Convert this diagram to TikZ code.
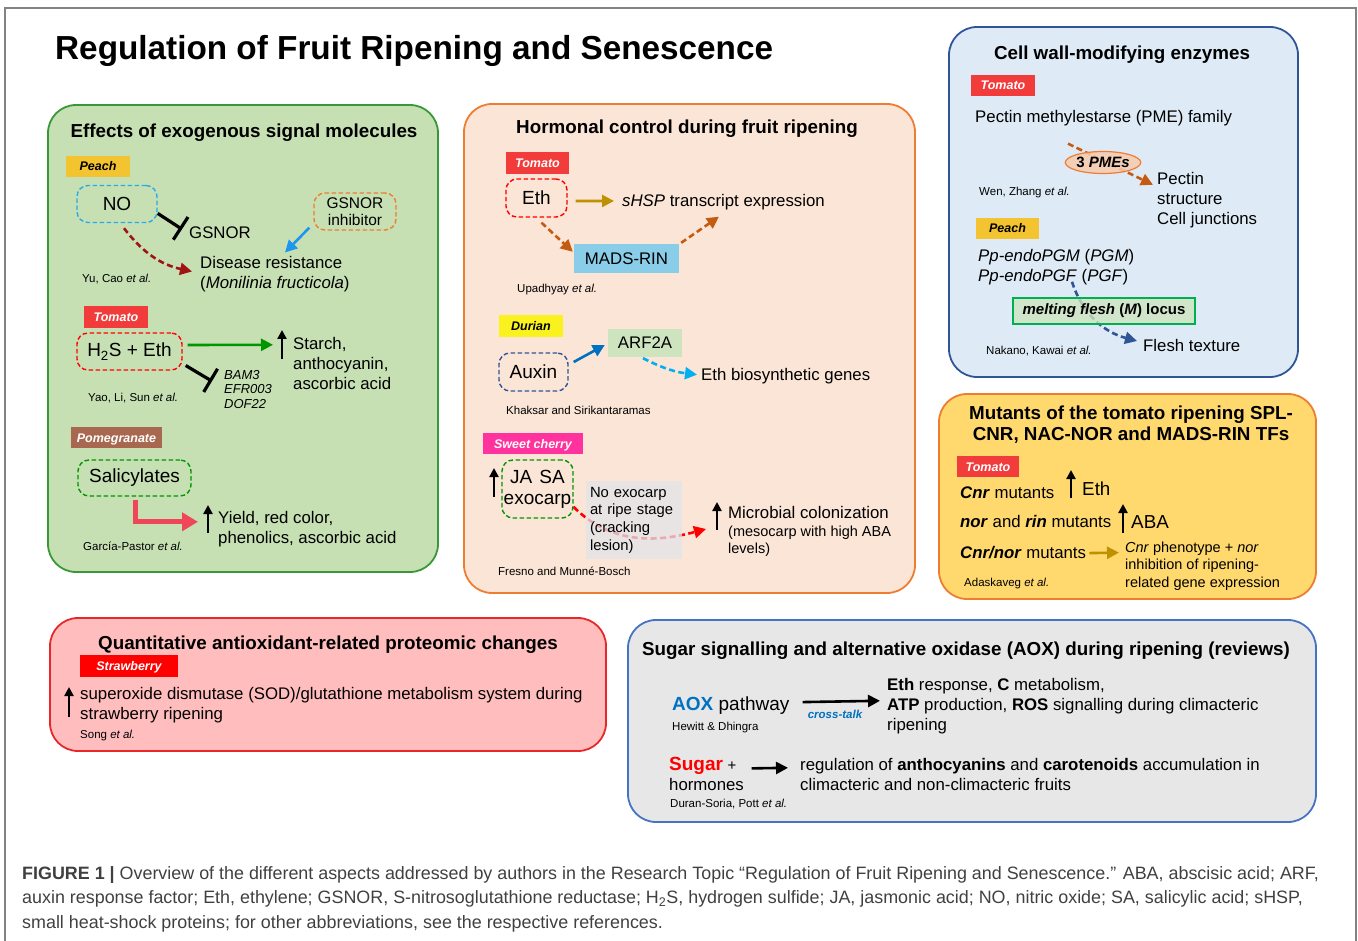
\documentclass[tikz,border=0pt]{standalone}
\usepackage{fontspec}
\setmainfont{Liberation Sans}
\usetikzlibrary{calc}
\usetikzlibrary{positioning}
\usetikzlibrary{arrows.meta}
\usetikzlibrary{shapes.geometric}

\definecolor{framegray}{RGB}{130,130,130}
\definecolor{grnfill}{RGB}{198,224,180}
\definecolor{grnline}{RGB}{56,152,56}
\definecolor{orgfill}{RGB}{251,229,214}
\definecolor{orgline}{RGB}{237,125,49}
\definecolor{bluefill}{RGB}{222,235,247}
\definecolor{blueline}{RGB}{47,85,151}
\definecolor{yelfill}{RGB}{255,217,110}
\definecolor{pinkfill}{RGB}{255,189,189}
\definecolor{pinkline}{RGB}{232,40,40}
\definecolor{grayfill}{RGB}{231,231,231}
\definecolor{grayline}{RGB}{68,114,196}
\definecolor{tagpeach}{RGB}{243,196,48}
\definecolor{tagtomato}{RGB}{242,60,60}
\definecolor{tagpom}{RGB}{168,104,80}
\definecolor{tagdurian}{RGB}{250,242,30}
\definecolor{tagcherry}{RGB}{255,50,158}
\definecolor{tagstraw}{RGB}{255,0,0}
\definecolor{noblue}{RGB}{40,170,230}
\definecolor{dkred}{RGB}{160,20,20}
\definecolor{skyarr}{RGB}{30,150,240}
\definecolor{grnarr}{RGB}{0,150,0}
\definecolor{goldarr}{RGB}{191,144,0}
\definecolor{brnarr}{RGB}{197,90,17}
\definecolor{auxblue}{RGB}{0,112,192}
\definecolor{ltblue}{RGB}{0,176,240}
\definecolor{pinkarr}{RGB}{240,70,90}
\definecolor{madsblue}{RGB}{137,205,233}
\definecolor{arfgreen}{RGB}{205,228,190}
\definecolor{lesiongray}{RGB}{228,228,234}
\definecolor{pmefill}{RGB}{248,203,173}
\definecolor{mgreen}{RGB}{0,176,80}
\definecolor{capgray}{RGB}{64,64,64}

\newcommand{\fsz}[2]{\fontsize{#1pt}{#2pt}\selectfont}

\tikzset{
  panel/.style={rounded corners=28pt, line width=1.8pt},
  head/.style={inner sep=0pt, font=\fsz{18.8}{21}\bfseries, align=center},
  txt/.style={inner sep=0pt, font=\fsz{16.8}{20}, align=left},
  cite/.style={inner sep=0pt, font=\fsz{11.5}{13}},
  tag/.style={inner sep=0pt, minimum height=21.5pt, text height=9pt, text depth=0pt,
    font=\fsz{12.5}{14}\bfseries\itshape, text=white},
  sig/.style={draw, dash pattern=on 4.5pt off 2.5pt, rounded corners=11pt, line width=1.4pt,
    inner sep=0pt, font=\fsz{19}{21}, align=center},
  arr/.style={-{Triangle[length=12pt,width=12pt]}, line width=2.6pt},
  darr/.style={arr, dash pattern=on 6pt off 3.5pt},
  uparr/.style={-{Triangle[length=9pt,width=9pt]}, line width=2.4pt},
  inh/.style={-{Bar[width=27pt]}, line width=3.2pt},
  pinkarrow/.style={-{Triangle[length=16pt,width=18pt]}, line width=5pt, pinkarr},
}

\begin{document}
\begin{tikzpicture}[x=1pt,y=-1pt]
\useasboundingbox (0,0) rectangle (1358,941);

% frame and title
\draw[framegray, line width=1.2pt] (5,941) -- (5,8) -- (1356,8) -- (1356,941);
\node[anchor=base west, inner sep=0pt, font=\fsz{33.3}{38}\bfseries] (title) at (55,60)
  {Regulation of Fruit Ripening and Senescence};

% panels
\draw[panel, draw=grnline, fill=grnfill] (48,105) rectangle (438,572);
\draw[panel, draw=orgline, fill=orgfill] (464,104) rectangle (915,593);
\draw[panel, draw=blueline, fill=bluefill] (949,27) rectangle (1298,377);
\draw[panel, draw=orgline, fill=yelfill] (939,394) rectangle (1316,599);
\draw[panel, draw=pinkline, fill=pinkfill] (50,618) rectangle (606,751);
\draw[panel, draw=grayline, fill=grayfill] (628,620) rectangle (1316,822);

% exogenous signal molecules
\node[head, anchor=base] (head1) at (244,138) {Effects of exogenous signal molecules};
\node[tag, fill=tagpeach, text=black, minimum width=64pt] (peach1) at (98,166.5) {Peach};
\node[sig, draw=noblue, minimum width=80pt, minimum height=37pt] (no) at (117,204) {NO};
\node[txt, anchor=base west] (gsnor) at (189,239) {GSNOR};
\node[sig, draw=orgline, minimum width=82pt, minimum height=37pt, font=\fsz{15.5}{17}] (inhib) at (355,211.5) {GSNOR\\inhibitor};
\node[txt, anchor=north west] (disease) at (200,256.5) {Disease resistance\\(\textit{Monilinia fructicola})};
\node[cite, anchor=base west] (yucao) at (82,283) {Yu, Cao \textit{et al.}};
\draw[inh] (no.-13) -- ($(gsnor.west)+(-7,-4)$);
\draw[darr, dkred] ($(no.south)+(7,5)$) to[bend right=20] ($(disease.north west)+(-8,15)$);
\draw[arr, skyarr] ($(inhib.south west)+(-4,-3)$) -- ($(disease.north west)+(85,-4)$);

\node[tag, fill=tagtomato, minimum width=64pt] (tomato1) at (116,317) {Tomato};
\node[sig, draw=red, minimum width=105pt, minimum height=37pt] (h2s) at (129.5,351.5) {H\textsubscript{2}S + Eth};
\node[txt, anchor=north west] (starch) at (293,336.8) {Starch,\\anthocyanin,\\ascorbic acid};
\node[txt, anchor=north west, font=\fsz{13}{14.5}\itshape] (bam) at (224,370.2) {BAM3\\EFR003\\DOF22};
\node[cite, anchor=base west] (yao) at (88,401) {Yao, Li, Sun \textit{et al.}};
\draw[arr, grnarr] ($(h2s.east)+(5,-6.5)$) -- ($(starch.north west)+(-20,8)$);
\draw[inh] ($(h2s.east)+(3,14)$) -- ($(bam.north west)+(-12,11)$);
\draw[uparr] (282,359) -- (282,330);

\node[tag, fill=tagpom, minimum width=91pt] (pom) at (116.5,437.5) {Pomegranate};
\node[sig, draw=grnarr, minimum width=113pt, minimum height=36pt] (salic) at (134.5,478) {Salicylates};
\node[txt, anchor=north west] (yield) at (218,510.8) {Yield, red color,\\phenolics, ascorbic acid};
\node[cite, anchor=base west] (garcia) at (83,550) {García-Pastor \textit{et al.}};
\draw[pinkarrow] ($(salic.south)+(0.5,3)$) |- ($(yield.north west)+(-20,11)$);
\draw[uparr] (208,533) -- (208,505);

% hormonal control
\node[head, anchor=base] (head2) at (687,134) {Hormonal control during fruit ripening};
\node[tag, fill=tagtomato, minimum width=63pt] (tomato2) at (537.5,163) {Tomato};
\node[sig, draw=red, minimum width=61pt, minimum height=38pt] (eth) at (536.5,198) {Eth};
\node[txt, anchor=base west] (shsp) at (622,207) {\textit{sHSP} transcript expression};
\node[fill=madsblue, minimum width=105pt, minimum height=29pt, inner sep=0pt, font=\fsz{16.8}{20}] (mads) at (626.5,258.5) {MADS-RIN};
\node[cite, anchor=base west] (upad) at (517,293) {Upadhyay \textit{et al.}};
\draw[arr, goldarr] ($(eth.east)+(8,3)$) -- ($(shsp.west)+(-8,-1.7)$);
\draw[darr, brnarr] ($(eth.south)+(5,5)$) -- ($(mads.north west)+(-1,8)$);
\draw[darr, brnarr] ($(mads.north east)+(2,-1)$) -- ($(shsp.west)+(97,14)$);

\node[tag, fill=tagdurian, text=black, minimum width=64pt] (durian) at (531,326) {Durian};
\node[sig, draw=blueline, minimum width=69pt, minimum height=38pt] (auxin) at (533.5,372) {Auxin};
\node[fill=arfgreen, minimum width=74pt, minimum height=28pt, inner sep=0pt, font=\fsz{16.8}{20}] (arf) at (645,343) {ARF2A};
\node[txt, anchor=base west] (ethbio) at (701,381) {Eth biosynthetic genes};
\node[cite, anchor=base west] (khaksar) at (506,414) {Khaksar and Sirikantaramas};
\draw[arr, auxblue] ($(auxin.east)+(5,-10)$) -- ($(arf.west)+(-3,2)$);
\draw[darr, ltblue] ($(arf.south)+(-2,1)$) to[bend right=10] ($(ethbio.west)+(-4,-2)$);

\node[tag, fill=tagcherry, minimum width=100pt] (cherry) at (533,443.5) {Sweet cherry};
\node[sig, draw=grnarr, minimum width=71pt, minimum height=58pt] (jasa) at (537.5,489) {JA\hspace{7pt}SA\\exocarp};
\draw[uparr] (494,497) -- (494,468);
\node[txt, anchor=base west] (micro) at (728,518) {Microbial colonization};
\node[txt, anchor=north west, font=\fsz{14.5}{17.5}] (meso) at (728,525.6) {(mesocarp with high ABA\\levels)};
\draw[darr, red] ($(jasa.east)+(0,18)$) to[out=-45, in=195] ($(micro.west)+(-22,17)$);
\node[fill=lesiongray, fill opacity=0.75, text opacity=1, minimum width=96pt, minimum height=78pt,
  text width=88pt, inner sep=0pt, align=left, font=\fsz{14.8}{17.7}] (lesion) at (634,520)
  {No exocarp\\at ripe stage\\(cracking\\lesion)};
\draw[uparr] (717,530) -- (717,502);
\node[cite, anchor=base west] (fresno) at (498,575) {Fresno and Munné-Bosch};

% cell wall enzymes
\node[head, anchor=base] (head3) at (1122,60) {Cell wall-modifying enzymes};
\node[tag, fill=tagtomato, minimum width=64pt] (tomato3) at (1003,85.5) {Tomato};
\node[txt, anchor=base west] (pme) at (975,123) {Pectin methylestarse (PME) family};
\node[txt, anchor=north west] (pectin) at (1157,171.8) {Pectin\\structure\\Cell junctions};
\node[cite, anchor=base west] (wen) at (979,196) {Wen, Zhang \textit{et al.}};
\draw[darr, brnarr] ($(pme.west)+(93,25)$) -- ($(pectin.north west)+(-4,13)$);
\node[ellipse, draw=orgline, line width=1.2pt, fill=pmefill, fill opacity=0.85, text opacity=1,
  minimum width=74pt, minimum height=22pt, inner sep=0pt, font=\fsz{15}{17}\bfseries] (pmes) at (1103,162.5) {3 \textit{PMEs}};
\node[tag, fill=tagpeach, text=black, minimum width=63pt] (peach3) at (1007.5,228.5) {Peach};
\node[txt, anchor=north west] (ppendo) at (978,248.8) {\textit{Pp-endoPGM} (\textit{PGM})\\\textit{Pp-endoPGF} (\textit{PGF})};
\node[txt, anchor=base west] (flesh) at (1143,352) {Flesh texture};
\node[cite, anchor=base west] (nakano) at (986,355) {Nakano, Kawai \textit{et al.}};
\draw[darr, blueline] ($(ppendo.north west)+(94,33)$) to[out=-72, in=165] ($(flesh.west)+(-6,-5)$);
\node[draw=mgreen, line width=1.2pt, fill=arfgreen, fill opacity=0.8, text opacity=1,
  minimum width=182pt, minimum height=26pt, inner sep=0pt, font=\fsz{15}{17}\bfseries] (melting) at (1104,311)
  {\textit{melting flesh} (\textit{M}) locus};

% tomato TF mutants
\node[head] (head4) at (1131,425) {Mutants of the tomato ripening SPL-\\CNR, NAC-NOR and MADS-RIN TFs};
\node[tag, fill=tagtomato, minimum width=62pt] (tomato4) at (988,466.5) {Tomato};
\node[txt, anchor=base west] (cnr) at (960,498) {\textbf{\textit{Cnr}} mutants};
\node[txt, anchor=base west, font=\fsz{18.8}{21}] (eth4) at (1082,495) {Eth};
\draw[uparr] (1071,498) -- (1071,470);
\node[txt, anchor=base west] (nor) at (960,527) {\textbf{\textit{nor}} and \textbf{\textit{rin}} mutants};
\node[txt, anchor=base west, font=\fsz{18.8}{21}] (aba) at (1131,528) {ABA};
\draw[uparr] (1123,533) -- (1123,504);
\node[txt, anchor=base west] (cnrnor) at (960,558) {\textbf{\textit{Cnr/nor}} mutants};
\node[txt, anchor=north west, font=\fsz{14.5}{17.5}] (pheno) at (1125,541.6) {\textit{Cnr} phenotype + \textit{nor}\\inhibition of ripening-\\related gene expression};
\node[cite, anchor=base west] (adask) at (964,586) {Adaskaveg \textit{et al.}};
\draw[arr, goldarr] ($(cnrnor.east)+(3,1)$) -- ($(pheno.north west)+(-6,11)$);

% proteomic changes
\node[head, anchor=base] (head5) at (328,649) {Quantitative antioxidant-related proteomic changes};
\node[tag, fill=tagstraw, minimum width=98pt] (straw) at (129,666) {Strawberry};
\draw[uparr] (69,717) -- (69,687);
\node[txt, anchor=north west] (sod) at (80,686.8) {superoxide dismutase (SOD)/glutathione metabolism system during\\strawberry ripening};
\node[cite, anchor=base west] (song) at (80,738) {Song \textit{et al.}};

% sugar and AOX
\node[head, anchor=base west] (head6) at (642,655) {Sugar signalling and alternative oxidase (AOX) during ripening (reviews)};
\node[txt, anchor=base west, font=\fsz{19}{22}] (aox) at (672,710) {\textcolor{auxblue}{\textbf{AOX}} pathway};
\node[cite, anchor=base west] (hewitt) at (672,730) {Hewitt \& Dhingra};
\node[txt, anchor=north west] (ethresp) at (887,677.8) {\textbf{Eth} response, \textbf{C} metabolism,\\\textbf{ATP} production, \textbf{ROS} signalling during climacteric\\ripening};
\draw[arr, black] ($(aox.east)+(13,-3)$) -- ($(ethresp.north west)+(-7,23)$);
\node[cite, anchor=base, font=\fsz{11.5}{13}\bfseries\itshape, text=auxblue] (xtalk) at (835,718) {cross-talk};
\node[txt, anchor=base west] (sugar) at (669,770) {{\color{red}\fsz{19}{22}\bfseries Sugar} {\fsz{15}{18}+}};
\node[txt, anchor=base west] (hormones) at (669,790) {hormones};
\node[cite, anchor=base west] (duran) at (670,807) {Duran-Soria, Pott \textit{et al.}};
\node[txt, anchor=north west] (regul) at (800,757.8) {regulation of \textbf{anthocyanins} and \textbf{carotenoids} accumulation in\\climacteric and non-climacteric fruits};
\draw[arr, black] ($(sugar.east)+(15,3)$) -- ($(regul.north west)+(-12,10)$);

% caption
\node[anchor=north west, inner sep=0pt, align=left, text=capgray, font=\fsz{17.9}{24.5}] (caption) at (22,866)
  {\textbf{FIGURE 1 |} Overview of the different aspects addressed by authors in the Research Topic “Regulation of Fruit Ripening and Senescence.” ABA, abscisic acid; ARF,\\
  auxin response factor; Eth, ethylene; GSNOR, S-nitrosoglutathione reductase; H\textsubscript{2}S, hydrogen sulfide; JA, jasmonic acid; NO, nitric oxide; SA, salicylic acid; sHSP,\\
  small heat-shock proteins; for other abbreviations, see the respective references.};
\end{tikzpicture}
\end{document}
